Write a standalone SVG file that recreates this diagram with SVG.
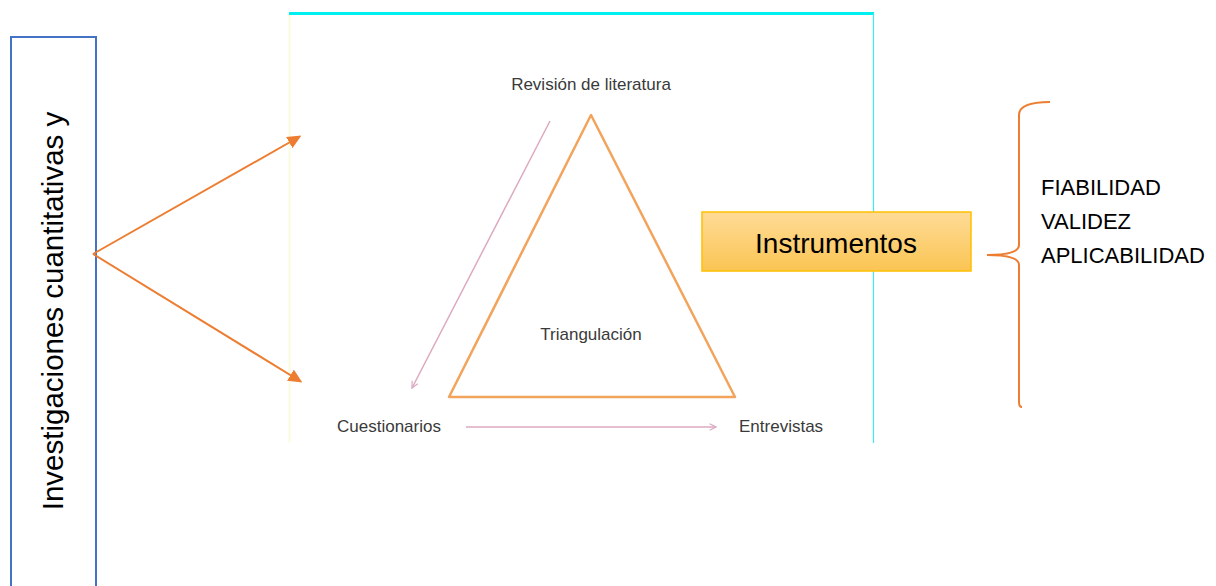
<svg xmlns="http://www.w3.org/2000/svg" width="1216" height="586" viewBox="0 0 1216 586">
<defs>
<style>
.lbl{font-family:"Liberation Sans",Arial,sans-serif;fill:#000}
.img{font-family:"Liberation Sans",Arial,sans-serif;fill:#3a3a3a;font-size:17px}
.conn{stroke:#ed7d31;stroke-width:2;fill:none}
.pink{stroke:#dcaac0;stroke-width:1.5;fill:none}
</style>
<marker id="ah" viewBox="0 0 10 10" refX="8" refY="5" markerWidth="14" markerHeight="13" orient="auto" markerUnits="userSpaceOnUse" preserveAspectRatio="none">
<path d="M0,0 L10,5 L0,10 z" fill="#ed7d31"/>
</marker>
<marker id="ahp" viewBox="0 0 10 10" refX="9" refY="5" markerWidth="8" markerHeight="8" orient="auto" markerUnits="userSpaceOnUse">
<path d="M1,1 L9,5 L1,9" fill="none" stroke="#dcaac0" stroke-width="1.5"/>
</marker>
<linearGradient id="gb" x1="0" y1="0" x2="0" y2="1">
<stop offset="0" stop-color="#fedb97"/>
<stop offset="1" stop-color="#fbc553"/>
</linearGradient>
</defs>
<rect width="1216" height="586" fill="#fff"/>
<g id="picture">
<rect x="289" y="13" width="584" height="430" fill="#fff"/>
<line x1="289.5" y1="14" x2="289.5" y2="443" stroke="#fbfbe0" stroke-width="2"/>
<line x1="289" y1="13.5" x2="874" y2="13.5" stroke="#00f0f0" stroke-width="3"/>
<line x1="873.5" y1="13" x2="873.5" y2="443" stroke="#40e8f0" stroke-width="1.2"/>
<text class="img" x="591" y="90" text-anchor="middle">Revisión de literatura</text>
<polygon points="591,115 449,397 735,397" fill="none" stroke="#f2a45c" stroke-width="2.5" stroke-linejoin="round"/>
<text class="img" x="591" y="340" text-anchor="middle">Triangulación</text>
<line class="pink" x1="550" y1="121" x2="412" y2="388" marker-end="url(#ahp)"/>
<text class="img" x="337" y="432">Cuestionarios</text>
<line class="pink" x1="466" y1="427" x2="716" y2="427" marker-end="url(#ahp)"/>
<text class="img" x="739" y="432">Entrevistas</text>
</g>
<g id="left-box">
<rect x="11" y="37" width="85" height="560" fill="#fff" stroke="#4472c4" stroke-width="2"/>
<text class="lbl" font-size="29.5" transform="translate(63,311) rotate(-90)" text-anchor="middle">Investigaciones cuantitativas y</text>
</g>
<g id="instrumentos">
<rect x="702" y="212" width="269" height="59" fill="url(#gb)" stroke="#ffc000" stroke-width="1.5"/>
<text class="lbl" font-size="28" x="836" y="253" text-anchor="middle">Instrumentos</text>
</g>
<g id="criterios">
<text class="lbl" font-size="22" x="1041" y="195">FIABILIDAD</text>
<text class="lbl" font-size="22" x="1041" y="229">VALIDEZ</text>
<text class="lbl" font-size="22" x="1041" y="263">APLICABILIDAD</text>
</g>
<g id="connectors">
<line class="conn" x1="93" y1="254" x2="299" y2="137" marker-end="url(#ah)"/>
<line class="conn" x1="93" y1="254" x2="300" y2="381" marker-end="url(#ah)"/>
<path class="conn" stroke-width="1.5" d="M1050,102 Q1019,102 1019,115 L1019,245 Q1019,255 987,255 Q1019,255 1019,265 L1019,402 Q1019,407 1022,407"/>
</g>
</svg>
